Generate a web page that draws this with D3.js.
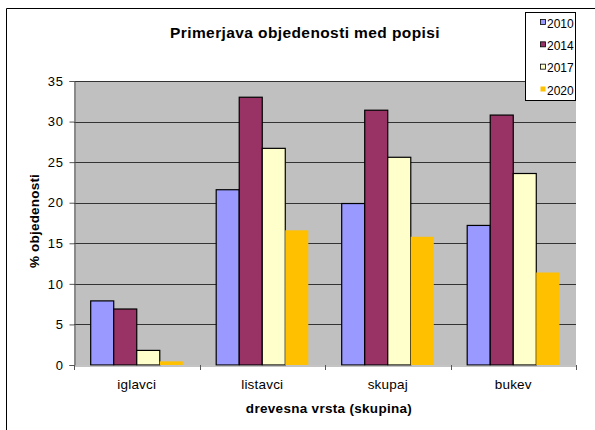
<!DOCTYPE html>
<html>
<head>
<meta charset="utf-8">
<script src="https://cdn.jsdelivr.net/npm/d3@7"></script>
<style>
  body { margin: 0; background: #fff; }
  svg { font-family: "Liberation Sans", Arial, sans-serif; display: block; }
</style>
</head>
<body>
<div id="vis"></div>
<script>
// data
const CATEGORIES = ["iglavci", "listavci", "skupaj", "bukev"];
const YEARS = ["2010", "2014", "2017", "2020"];
const V2010 = [7.9, 21.6, 19.9, 17.2];
const V2014 = [6.9, 33.0, 31.4, 30.8];
const V2017 = [1.8, 26.7, 25.6, 23.6];
const V2020 = [0.45, 16.6, 15.8, 11.4];
const Y_TICKS = [0, 5, 10, 15, 20, 25, 30, 35];

const SERIES = [V2010, V2014, V2017, V2020];
const COLORS = ["#9999FF", "#993366", "#FFFFCC", "#FFC000"];
const STROKES = ["#000", "#000", "#000", "none"];

// set constants
const FRAME_WIDTH = 595;
const FRAME_HEIGHT = 430;
const PLOT = {left: 74, right: 576, top: 81, bottom: 365};
const FONT = "Liberation Sans, Arial, sans-serif";

const svg = d3.select("#vis")
  .append("svg")
    .attr("width", FRAME_WIDTH)
    .attr("height", FRAME_HEIGHT);

// outer chart border (runs off right / bottom)
svg.append("path")
  .attr("d", "M6.5,440 V8.5 H600")
  .attr("fill", "none")
  .attr("stroke", "#000")
  .attr("stroke-width", 1);

// scales
const X_SCALE = d3.scaleBand()
  .domain(CATEGORIES)
  .range([PLOT.left, PLOT.right])
  .padding(0);

const cw = X_SCALE.bandwidth();
const barW = cw / (4 + 1.45);
const off = (cw - barW * 4) / 2;

const X_INNER = d3.scaleBand()
  .domain(YEARS)
  .range([off, cw - off])
  .padding(0);

const Y_SCALE = d3.scaleLinear()
  .domain([0, 35])
  .range([PLOT.bottom, PLOT.top]);

// plot area
svg.append("rect")
  .attr("x", PLOT.left)
  .attr("y", PLOT.top)
  .attr("width", PLOT.right - PLOT.left)
  .attr("height", PLOT.bottom - PLOT.top)
  .attr("fill", "#C0C0C0");

// gridlines
svg.append("g")
  .selectAll("line")
  .data(Y_TICKS.filter(d => d > 0))
  .enter()
  .append("line")
    .attr("x1", PLOT.left)
    .attr("x2", PLOT.right)
    .attr("y1", d => Math.round(Y_SCALE(d)) + 0.5)
    .attr("y2", d => Math.round(Y_SCALE(d)) + 0.5)
    .attr("stroke", "#333")
    .attr("stroke-width", 1);

// bars
SERIES.forEach((vals, i) => {
  svg.append("g")
    .selectAll("rect")
    .data(vals)
    .enter()
    .append("rect")
      .attr("x", (d, j) => X_SCALE(CATEGORIES[j]) + X_INNER(YEARS[i]))
      .attr("y", d => Y_SCALE(d))
      .attr("width", X_INNER.bandwidth())
      .attr("height", d => Y_SCALE(0) - Y_SCALE(d))
      .attr("fill", COLORS[i])
      .attr("stroke", STROKES[i])
      .attr("stroke-width", 1.2);
});

// y axis
const yAxis = svg.append("g")
  .attr("transform", "translate(" + (PLOT.left + 0.5) + ",0)")
  .call(d3.axisLeft(Y_SCALE).tickValues(Y_TICKS).tickSize(5).tickPadding(6).tickFormat(d3.format("d")));
yAxis.select(".domain").attr("stroke", "#555");
yAxis.selectAll(".tick line").attr("stroke", "#555");
yAxis.selectAll("text")
  .attr("font-size", "13px")
  .attr("letter-spacing", "0.6px")
  .attr("fill", "#000")
  .attr("font-family", FONT);

// x axis
const xAxis = svg.append("g")
  .attr("transform", "translate(0," + (PLOT.bottom + 0.5) + ")")
  .call(d3.axisBottom(X_SCALE).tickSize(0).tickPadding(14));
xAxis.select(".domain").attr("stroke", "#888");
xAxis.selectAll("text")
  .attr("font-size", "13.5px")
  .attr("letter-spacing", "0.2px")
  .attr("fill", "#000")
  .attr("font-family", FONT);

// category separator ticks
svg.append("g")
  .selectAll("line")
  .data(CATEGORIES.concat(["end"]))
  .enter()
  .append("line")
    .attr("x1", (d, i) => Math.round(PLOT.left + i * cw) + 0.5)
    .attr("x2", (d, i) => Math.round(PLOT.left + i * cw) + 0.5)
    .attr("y1", PLOT.bottom)
    .attr("y2", PLOT.bottom + 5)
    .attr("stroke", "#555");

// Title
svg.append("text")
  .attr("x", 305)
  .attr("y", 38)
  .attr("text-anchor", "middle")
  .style("font-size", "15.5px")
  .style("letter-spacing", "0.4px")
  .style("font-weight", "bold")
  .text("Primerjava objedenosti med popisi");

// X label
svg.append("text")
  .attr("x", 329)
  .attr("y", 413)
  .attr("text-anchor", "middle")
  .style("font-size", "13.5px")
  .style("letter-spacing", "0.3px")
  .style("font-weight", "bold")
  .text("drevesna vrsta (skupina)");

// Y label
svg.append("text")
  .attr("transform", "translate(39,221) rotate(-90)")
  .attr("text-anchor", "middle")
  .style("font-size", "13.5px")
  .style("letter-spacing", "0.2px")
  .style("font-weight", "bold")
  .text("% objedenosti");

// legend
const legend = svg.append("g");
legend.append("rect")
  .attr("x", 525.5)
  .attr("y", 12.5)
  .attr("width", 50)
  .attr("height", 88)
  .attr("fill", "#fff")
  .attr("stroke", "#000");

const LEG_Y = d3.scalePoint().domain(YEARS).range([23, 90]);

legend.selectAll(".sw")
  .data(YEARS)
  .enter()
  .append("rect")
    .attr("x", 540.5)
    .attr("y", d => LEG_Y(d) - 3.5)
    .attr("width", 5)
    .attr("height", 5)
    .attr("fill", (d, i) => COLORS[i])
    .attr("stroke", (d, i) => STROKES[i])
    .attr("stroke-width", 0.8);

legend.selectAll(".lt")
  .data(YEARS)
  .enter()
  .append("text")
    .attr("x", 547)
    .attr("y", d => LEG_Y(d) + 4.5)
    .style("font-size", "12px")
    .text(d => d);
</script>
</body>
</html>
